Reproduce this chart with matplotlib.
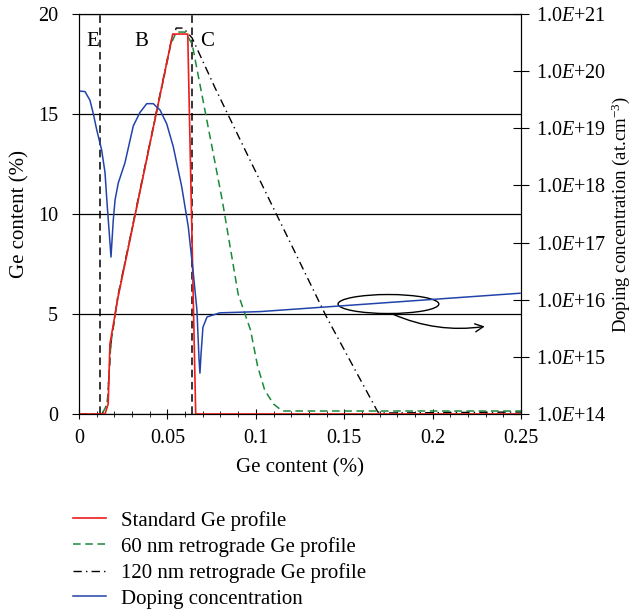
import matplotlib
matplotlib.use("Agg")
import matplotlib.pyplot as plt
from matplotlib.patches import Ellipse
from matplotlib.ticker import MultipleLocator, FixedLocator

plt.rcParams['font.family'] = ['Liberation Serif', 'DejaVu Serif']
plt.rcParams['mathtext.fontset'] = 'custom'
plt.rcParams['mathtext.rm'] = 'Liberation Serif'
plt.rcParams['mathtext.it'] = 'Liberation Serif:italic'
plt.rcParams['font.size'] = 14.5

# standard Ge profile
std_x = [0, 0.0147, 0.0165, 0.0175, 0.022, 0.053, 0.0615, 0.066, 0.25]
std_y = [0, 0, 0.5, 3.5, 5.8, 19.0, 19.0, 0, 0]

# 60 nm retrograde
r60_x = [0, 0.013, 0.016, 0.018, 0.022, 0.052, 0.055, 0.060, 0.064, 0.081, 0.090,
         0.097, 0.101, 0.105, 0.110, 0.115, 0.25]
r60_y = [0, 0, 0.5, 3.5, 5.9, 18.5, 19.1, 19.1, 18.5, 10.7, 6.0,
         4.2, 2.4, 1.2, 0.5, 0.15, 0.15]

# 120 nm retrograde
r120_x = [0, 0.013, 0.016, 0.018, 0.022, 0.052, 0.055, 0.059, 0.064, 0.077, 0.0967,
          0.140, 0.169, 0.172, 0.25]
r120_y = [0, 0, 0.5, 3.5, 5.9, 18.6, 19.3, 19.3, 18.8, 16.3, 12.7,
          4.85, 0.1, 0.05, 0.1]

# doping concentration (at.cm-3)
dop_x = [0, 0.0034, 0.0062, 0.0081, 0.0100, 0.0128, 0.0147, 0.0160, 0.0171, 0.0181,
         0.0194, 0.0204, 0.0222, 0.0260, 0.0307, 0.0345, 0.0383, 0.0420, 0.0458,
         0.0496, 0.0533, 0.0581, 0.0618, 0.0646, 0.0667, 0.0679, 0.0684, 0.069,
         0.0701, 0.0724, 0.0797, 0.1024, 0.2494]
dop_y = [4.5e19, 4.4e19, 3.1e19, 1.8e19, 9.5e18, 4.2e18, 1.7e18, 4.3e17, 1.5e17, 5.6e16,
         2.5e17, 5.6e17, 1.1e18, 2.5e18, 1.1e19, 1.9e19, 2.7e19, 2.7e19, 2.1e19,
         1.2e19, 4.8e18, 9.5e17, 1.9e17, 3.0e16, 6.6e15, 8.9e14, 5.2e14, 1.1e15,
         3.3e15, 5.0e15, 5.9e15, 6.2e15, 1.3e16]

region_x = [0.0117, 0.0637]
region_labels = ['E', 'B', 'C']
region_label_x = [0.0075, 0.035, 0.0725]

x_ticks = [0, 0.05, 0.1, 0.15, 0.2, 0.25]
x_labels = ['0', '0.05', '0.1', '0.15', '0.2', '0.25']
right_ticks = [1e14, 1e15, 1e16, 1e17, 1e18, 1e19, 1e20, 1e21]
right_labels = ['1.0$E$+%d' % e for e in range(14, 22)]

fig = plt.figure(figsize=(6.37, 6.11), dpi=100)
ax = fig.add_axes([0.124, 0.3224, 0.694, 0.6546])
ax2 = ax.twinx()

ax.set_xlim(0, 0.25)
ax.set_ylim(0, 20)
ax.yaxis.set_major_locator(MultipleLocator(5))
ax.xaxis.set_major_locator(FixedLocator(x_ticks))
ax.xaxis.set_minor_locator(MultipleLocator(0.01))
ax.set_xticklabels(x_labels)
ax.tick_params(axis='x', which='both', direction='inout', pad=7)
ax.tick_params(axis='x', which='major', length=7)
ax.tick_params(axis='x', which='minor', length=5)
ax.tick_params(axis='y', direction='out', length=5, pad=10)
ax.grid(axis='y', color='black', linewidth=0.9)
ax.set_axisbelow(True)

for xv in region_x:
    ax.axvline(xv, color='black', linestyle=(0, (5, 3)), linewidth=1.1)
for lx, lab in zip(region_label_x, region_labels):
    ax.text(lx, 18.4, lab, ha='center', va='baseline', fontsize=15)

ax.plot(std_x, std_y, color='#ee1c1c', linewidth=1.2, label='Standard Ge profile', zorder=5)
ax.plot(r60_x, r60_y, color='#1a8a3a', linestyle=(0, (5, 3)), linewidth=1.1,
        label='60 nm retrograde Ge profile', zorder=4)
ax.plot(r120_x, r120_y, color='black', linestyle=(0, (6, 3, 1, 3)), linewidth=1.0,
        label='120 nm retrograde Ge profile', zorder=3)

ax2.set_yscale('log')
ax2.set_ylim(1e14, 1e21)
ax2.yaxis.set_major_locator(FixedLocator(right_ticks))
ax2.yaxis.set_minor_locator(FixedLocator([]))
ax2.set_yticklabels(right_labels)
ax2.tick_params(axis='y', direction='inout', length=12, pad=5)
ln, = ax2.plot(dop_x, dop_y, color='#2244aa', linewidth=1.1, label='Doping concentration')

ax.add_patch(Ellipse((0.175, 5.5), 0.057, 0.95, fill=False, edgecolor='black',
                     linewidth=1.0, zorder=6))
ax.annotate('', xy=(0.231, 4.4), xytext=(0.176, 5.05),
            arrowprops=dict(arrowstyle='->', color='black', linewidth=1.0,
                            connectionstyle='arc3,rad=0.15'), zorder=6)

ax.set_xlabel('Ge content (%)', fontsize=15, labelpad=8)
ax.set_ylabel('Ge content (%)', fontsize=15, labelpad=6)
ax2.set_ylabel('Doping concentration (at.cm$^{-3}$)', fontsize=13.5, labelpad=2)

handles = [h for h in ax.get_lines() if not h.get_label().startswith('_')] + [ln]
fig.legend(handles=handles, loc='upper left', bbox_to_anchor=(0.085, 0.195),
           frameon=False, handlelength=1.6, handletextpad=0.7, labelspacing=0.3,
           fontsize=15)

fig.savefig('out.png', dpi=100)
